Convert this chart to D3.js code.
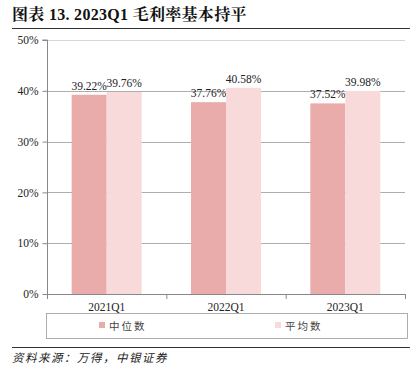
<!DOCTYPE html>
<html><head><meta charset="utf-8">
<script src="https://cdn.jsdelivr.net/npm/d3@7/dist/d3.min.js"></script>
<style>body{margin:0;background:#fff;}svg{display:block;}</style>
</head><body>
<svg id="c" width="419" height="376"></svg>
<script>
const categories = ["2021Q1", "2022Q1", "2023Q1"];
const seriesNames = ["中位数", "平均数"];
const median = [39.22, 37.76, 37.52];
const mean = [39.76, 40.58, 39.98];
const yTicks = [0, 10, 20, 30, 40, 50];
const colors = ["#EAABAB", "#F8DADB"];

(function () {
const svg = d3.select("#c");
const serif = "'Liberation Serif','Times New Roman',serif";
const cjk = "'Liberation Serif','Noto Sans CJK SC',serif";

// title
svg.append("text").attr("x", 12).attr("y", 20)
  .attr("font-family", "'Liberation Serif','Noto Serif CJK SC','Noto Sans CJK SC',serif")
  .attr("font-weight", "bold").attr("font-size", 16).attr("fill", "#111")
  .attr("letter-spacing", 0.3)
  .text("图表 13. 2023Q1 毛利率基本持平");
svg.append("line").attr("x1", 12).attr("x2", 410).attr("y1", 28.5).attr("y2", 28.5)
  .attr("stroke", "#333").attr("stroke-width", 1.2);

const pL = 47, pR = 405, pT = 40, pB = 294;
const x = d3.scaleBand().domain(categories).range([pL, pR]);
const x1 = d3.scaleBand().domain(seriesNames).range([0, 70]);
const y = d3.scaleLinear().domain([0, 50]).range([pB, pT]);

// gridlines
svg.append("g").selectAll("line").data(yTicks.filter(d => d > 0)).join("line")
  .attr("x1", pL).attr("x2", pR)
  .attr("y1", d => Math.round(y(d)) + 0.5).attr("y2", d => Math.round(y(d)) + 0.5)
  .attr("stroke", d => d === 50 ? "#ccc" : "#999").attr("stroke-width", 0.8);

// bars
const data = categories.map((c, i) => ({c, vals: [median[i], mean[i]]}));
const g = svg.append("g");
data.forEach(d => {
  const cx = x(d.c) + x.bandwidth() / 2 - 35;
  d.vals.forEach((v, j) => {
    g.append("rect")
      .attr("x", cx + x1(seriesNames[j])).attr("width", x1.bandwidth())
      .attr("y", y(v)).attr("height", y(0) - y(v)).attr("fill", colors[j]);
    g.append("text")
      .attr("x", cx + x1(seriesNames[j]) + x1.bandwidth() / 2)
      .attr("y", y(v) - 5).attr("text-anchor", "middle")
      .attr("font-family", serif).attr("font-size", 11.5).attr("fill", "#222")
      .text(v.toFixed(2) + "%");
  });
});

// y axis
const ya = svg.append("g").attr("transform", `translate(${pL + 0.5},0)`)
  .call(d3.axisLeft(y).tickValues(yTicks).tickFormat(d => d + "%").tickSize(5).tickPadding(4));
ya.select(".domain").attr("stroke", "#888").attr("d", `M-5,${pT}H0V${pB}`);
ya.selectAll(".tick line").attr("stroke", "#888");
ya.selectAll("text").attr("font-family", serif).attr("font-size", 11.5).attr("fill", "#222");

// x axis
const xa = svg.append("g").attr("transform", `translate(0,${pB + 0.5})`)
  .call(d3.axisBottom(x).tickSize(0).tickPadding(8));
xa.select(".domain").attr("stroke", "#888").attr("d", `M${pL},0H${pR}`);
xa.selectAll("text").attr("font-family", serif).attr("font-size", 11.5).attr("fill", "#222");
const bounds = [pL, ...categories.map(c => x(c) + x.bandwidth())];
svg.append("g").selectAll("line").data(bounds).join("line")
  .attr("x1", d => d + 0.5).attr("x2", d => d + 0.5)
  .attr("y1", pB).attr("y2", pB + 5).attr("stroke", "#888");

// legend
svg.append("rect").attr("x", 46.5).attr("y", 313.5).attr("width", 361).attr("height", 25)
  .attr("fill", "none").attr("stroke", "#999").attr("stroke-width", 0.8);
const legX = [99, 275];
seriesNames.forEach((n, i) => {
  svg.append("rect").attr("x", legX[i]).attr("y", 322).attr("width", 6).attr("height", 6).attr("fill", colors[i]);
  svg.append("text").attr("x", legX[i] + 10).attr("y", 329.5)
    .attr("font-family", cjk).attr("font-size", 10.5).attr("fill", "#444")
    .attr("letter-spacing", 2).text(n);
});

// source
svg.append("line").attr("x1", 12).attr("x2", 410).attr("y1", 347.5).attr("y2", 347.5)
  .attr("stroke", "#333").attr("stroke-width", 1);
svg.append("text").attr("x", 12).attr("y", 362)
  .attr("font-family", cjk).attr("font-style", "italic").attr("font-size", 11.5).attr("fill", "#222")
  .attr("letter-spacing", 1.5).text("资料来源：万得，中银证券");
})();
</script>
</body></html>
